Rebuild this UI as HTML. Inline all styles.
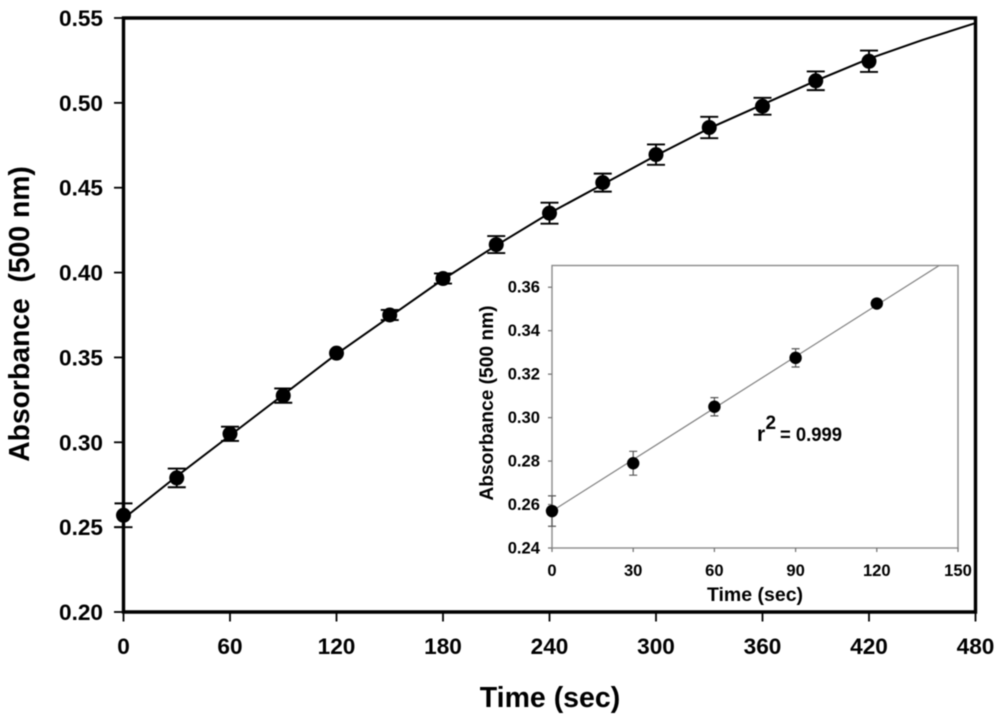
<!DOCTYPE html>
<html lang="en">
<head>
<meta charset="utf-8">
<title>Absorbance vs Time</title>
<style>
html,body{margin:0;padding:0;background:#fff;width:1000px;height:718px;overflow:hidden}
svg{display:block;font-family:"Liberation Sans",Arial,sans-serif;font-weight:bold;fill:#000}
</style>
</head>
<body>
<svg id="chart" width="1000" height="718" viewBox="0 0 1000 718" xmlns="http://www.w3.org/2000/svg">
<g id="layer" style="filter:blur(0.45px)">
<text x="550" y="707" font-size="28.5" text-anchor="middle">Time (sec)</text>
<text transform="translate(29,314) rotate(-90)" font-size="28.3" text-anchor="middle" xml:space="preserve" style="white-space:pre">Absorbance  (500 nm)</text>
<text x="755" y="601" font-size="19.5" text-anchor="middle">Time (sec)</text>
<text transform="translate(493,403) rotate(-90)" font-size="19.2" text-anchor="middle">Absorbance (500 nm)</text>
<text x="757" y="441" font-size="21">r</text>
<text x="765.5" y="429" font-size="19">2</text>
<text x="780" y="441" font-size="19.5" textLength="62" lengthAdjust="spacingAndGlyphs">= 0.999</text>
</g>
</svg>
<script>
const times = [0,30,60,90,120,150,180,210,240,270,300,330,360,390,420];
const absorbance = [0.257,0.279,0.305,0.3275,0.3525,0.375,0.3965,0.4165,0.435,0.453,0.4695,0.4855,0.498,0.513,0.5245];
const errors = [0.007,0.0055,0.0042,0.0042,0,0.003,0.003,0.005,0.0062,0.0053,0.006,0.0063,0.005,0.0055,0.0063];
const curveTimes = [0,30,60,90,120,150,180,210,240,270,300,330,360,390,420,450,480];
const curveValues = [0.255,0.280,0.304,0.328,0.352,0.374,0.396,0.416,0.435,0.452,0.469,0.485,0.499,0.513,0.526,0.537,0.547];
const xTicks = [0,60,120,180,240,300,360,420,480];
const yTicks = [0.20,0.25,0.30,0.35,0.40,0.45,0.50,0.55];
const insetTimes = [0,30,60,90,120];
const insetAbsorbance = [0.257,0.279,0.305,0.3275,0.3525];
const insetErrors = [0.007,0.0055,0.0042,0.0042,0];
const insetFitTimes = [0,150];
const insetFitValues = [0.257,0.3755];
const insetXTicks = [0,30,60,90,120,150];
const insetYTicks = [0.24,0.26,0.28,0.30,0.32,0.34,0.36];

const NS = 'http://www.w3.org/2000/svg';
const layer = document.getElementById('layer');
function mk(tag, attrs, parent) {
  const el = document.createElementNS(NS, tag);
  for (const k in attrs) el.setAttribute(k, attrs[k]);
  (parent || layer).appendChild(el);
  return el;
}
function linear(d0, d1, r0, r1) { return v => r0 + (v - d0) * (r1 - r0) / (d1 - d0); }

const X = linear(0, 480, 123.5, 975.5);
const Y = linear(0.20, 0.55, 612, 18);
const IX = linear(0, 150, 552, 958);
const IY = linear(0.24, 0.37, 548, 265.5);

/* inset plot */
const insetBox = mk('rect', {x:IX(0), y:IY(0.37), width:IX(150)-IX(0), height:IY(0.24)-IY(0.37), fill:'none', stroke:'#8a8a8a', 'stroke-width':1.4});



const clip = mk('clipPath', {id:'inset-clip'});
mk('rect', {x:IX(0), y:IY(0.37), width:IX(150)-IX(0), height:IY(0.24)-IY(0.37)}, clip);

const fit = mk('polyline', {points:insetFitTimes.map((t,i)=>IX(t)+','+IY(insetFitValues[i])).join(' '), fill:'none', stroke:'#808080', 'stroke-width':1.2, 'clip-path':'url(#inset-clip)'});



insetXTicks.forEach(t => {
  const tick = mk('line', {x1:IX(t), x2:IX(t), y1:IY(0.24), y2:IY(0.24)+4, stroke:'#777', 'stroke-width':1.3});
  
  
  const label = mk('text', {x:IX(t), y:576, 'font-size':16.6, 'text-anchor':'middle'});
  label.textContent = String(t);
  
  
});
insetYTicks.forEach(v => {
  const tick = mk('line', {x1:IX(0)-4, x2:IX(0), y1:IY(v), y2:IY(v), stroke:'#777', 'stroke-width':1.3});
  
  
  const label = mk('text', {x:540, y:IY(v)+5.5, 'font-size':16.6, 'text-anchor':'end'});
  label.textContent = v.toFixed(2);
  
  
});
insetTimes.forEach((t,i) => {
  if (insetErrors[i] > 0) {
    const hi = IY(insetAbsorbance[i] + insetErrors[i]);
    const lo = IY(insetAbsorbance[i] - insetErrors[i]);
    const err = mk('path', {d:'M'+IX(t)+' '+hi+'V'+lo+'M'+(IX(t)-4)+' '+hi+'h8M'+(IX(t)-4)+' '+lo+'h8', fill:'none', stroke:'#555', 'stroke-width':1.2});
    
    
  }
  const dot = mk('circle', {cx:IX(t), cy:IY(insetAbsorbance[i]), r:6.2, fill:'#000'});
  
  
});

/* main axes */
const frame = mk('path', {d:'M'+X(0)+' '+Y(0.55)+'H'+X(480)+'V'+Y(0.20)+'H'+X(0)+'Z', fill:'none', stroke:'#000', 'stroke-width':3.4});



xTicks.forEach(t => {
  const tick = mk('line', {x1:X(t), x2:X(t), y1:Y(0.20), y2:Y(0.20)+9.5, stroke:'#000', 'stroke-width':1.8});
  
  
  const label = mk('text', {x:X(t), y:654, 'font-size':22.6, 'text-anchor':'middle'});
  label.textContent = String(t);
  
  
});
yTicks.forEach(v => {
  const tick = mk('line', {x1:X(0)-9.5, x2:X(0), y1:Y(v), y2:Y(v), stroke:'#000', 'stroke-width':1.8});
  
  
  const label = mk('text', {x:103, y:Y(v)+8, 'font-size':22.6, 'text-anchor':'end'});
  label.textContent = v.toFixed(2);
  
  
});

const curve = mk('polyline', {points:curveTimes.map((t,i)=>X(t)+','+Y(curveValues[i])).join(' '), fill:'none', stroke:'#000', 'stroke-width':2});



times.forEach((t,i) => {
  if (errors[i] > 0) {
    const hi = Y(absorbance[i] + errors[i]);
    const lo = Y(absorbance[i] - errors[i]);
    const err = mk('path', {d:'M'+X(t)+' '+hi+'V'+lo+'M'+(X(t)-9)+' '+hi+'h18M'+(X(t)-9)+' '+lo+'h18', fill:'none', stroke:'#000', 'stroke-width':1.9});
    
    
  }
  const dot = mk('circle', {cx:X(t), cy:Y(absorbance[i]), r:7.5, fill:'#000'});
  
  
});
</script>
</body>
</html>
